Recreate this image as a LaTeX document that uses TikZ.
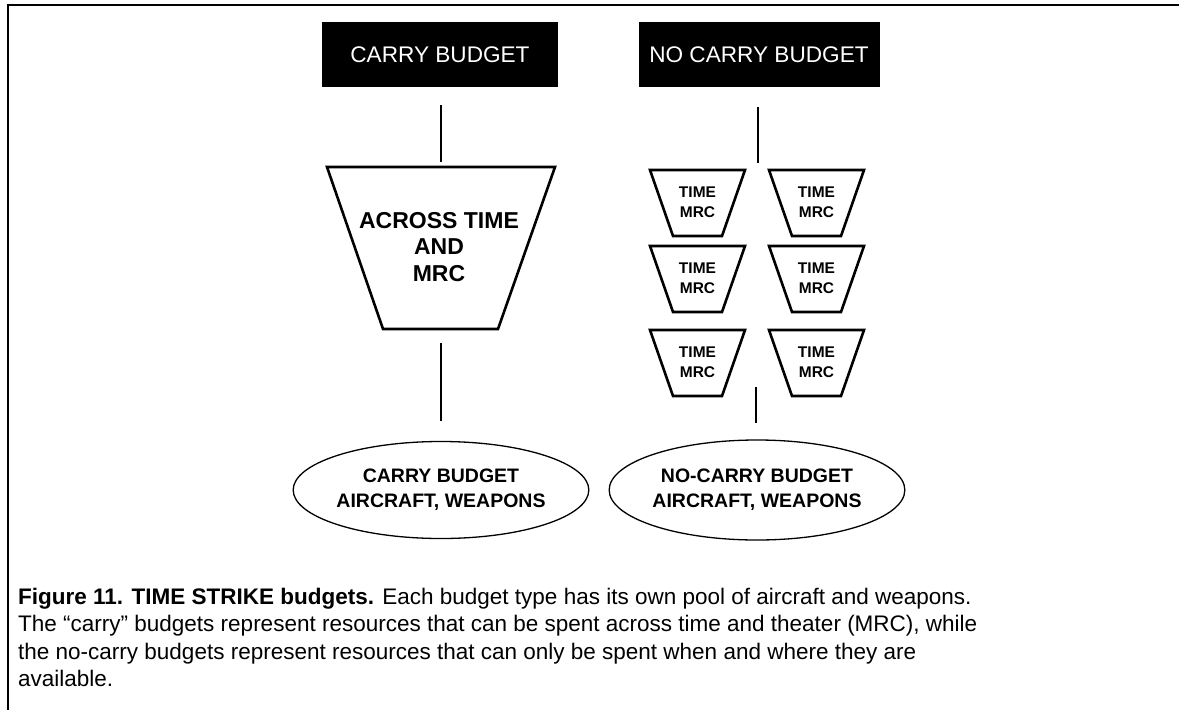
\documentclass[tikz,border=0pt]{standalone}
\usepackage{fontspec}
\setmainfont{Liberation Sans}
\usetikzlibrary{shapes.geometric}
\begin{document}
\begin{tikzpicture}[x=1pt,y=-1pt,
  hdr/.style={fill=black,text=white,inner sep=0pt,minimum height=65pt,
    font=\fontsize{22.6}{27}\selectfont},
  trap/.style={draw=black,line width=2.6pt,line join=miter},
  bigtxt/.style={align=center,inner sep=0pt,font=\bfseries\fontsize{23}{26.5}\selectfont},
  smalltxt/.style={align=center,inner sep=0pt,font=\bfseries\fontsize{15.5}{20}\selectfont},
  pool/.style={draw=black,ellipse,line width=1.3pt,inner sep=0pt,align=center,
    font=\bfseries\fontsize{19.5}{25}\selectfont},
  conn/.style={draw=black,line width=1.4pt},
  captxt/.style={anchor=base west,inner sep=0pt,font=\fontsize{22.5}{27}\selectfont}]
\useasboundingbox (0,0) rectangle (1179,710);
% frame
\draw[line width=2pt] (8,710) -- (8,5) -- (1179,5);
% headers
\node[hdr,minimum width=236pt] (carry) at (440,54.5) {CARRY BUDGET};
\node[hdr,minimum width=241pt] (nocarry) at (759,54.5) {NO CARRY BUDGET};
% big trapezoid
\draw[trap] (327,167) -- (555,167) -- (498,329) -- (383,329) -- cycle;
\node[bigtxt] (across) at (439,247) {ACROSS TIME\\AND\\MRC};
% small trapezoids
\foreach \cx/\ty/\nm in {697.5/170/a,816.5/170/b,697.5/246/c,816.5/246/d,697.5/330/e,816.5/330/f}{
  \draw[trap] (\cx-47.5,\ty) -- (\cx+47.5,\ty) -- (\cx+24.5,\ty+66) -- (\cx-24.5,\ty+66) -- cycle;
  \node[smalltxt] (t\nm) at (\cx,\ty+32) {TIME\\MRC};
}
% ellipses
\node[pool,minimum width=252pt,minimum height=97pt] (cpool) at (441,490) {CARRY BUDGET\\AIRCRAFT, WEAPONS};
\node[pool,minimum width=250pt,minimum height=100pt] (npool) at (757,490) {NO-CARRY BUDGET\\AIRCRAFT, WEAPONS};
% connectors
\coordinate (c1a) at (441,105); \coordinate (c1b) at (441,162);
\coordinate (c2a) at (441,343); \coordinate (c2b) at (441,421);
\coordinate (n1a) at (758,107); \coordinate (n1b) at (758,163);
\coordinate (n2a) at (756,387); \coordinate (n2b) at (756,423);
\draw[conn] (c1a) -- (c1b);
\draw[conn] (c2a) -- (c2b);
\draw[conn] (n1a) -- (n1b);
\draw[conn] (n2a) -- (n2b);
% caption
\node[captxt] (l1) at (18,604) {\textbf{Figure 11. TIME STRIKE budgets.} Each budget type has its own pool of aircraft and weapons.};
\node[captxt] (l2) at (18,631.5) {The “carry” budgets represent resources that can be spent across time and theater (MRC), while};
\node[captxt] (l3) at (18,659) {the no-carry budgets represent resources that can only be spent when and where they are};
\node[captxt] (l4) at (18,686) {available.};
\end{tikzpicture}
\end{document}
